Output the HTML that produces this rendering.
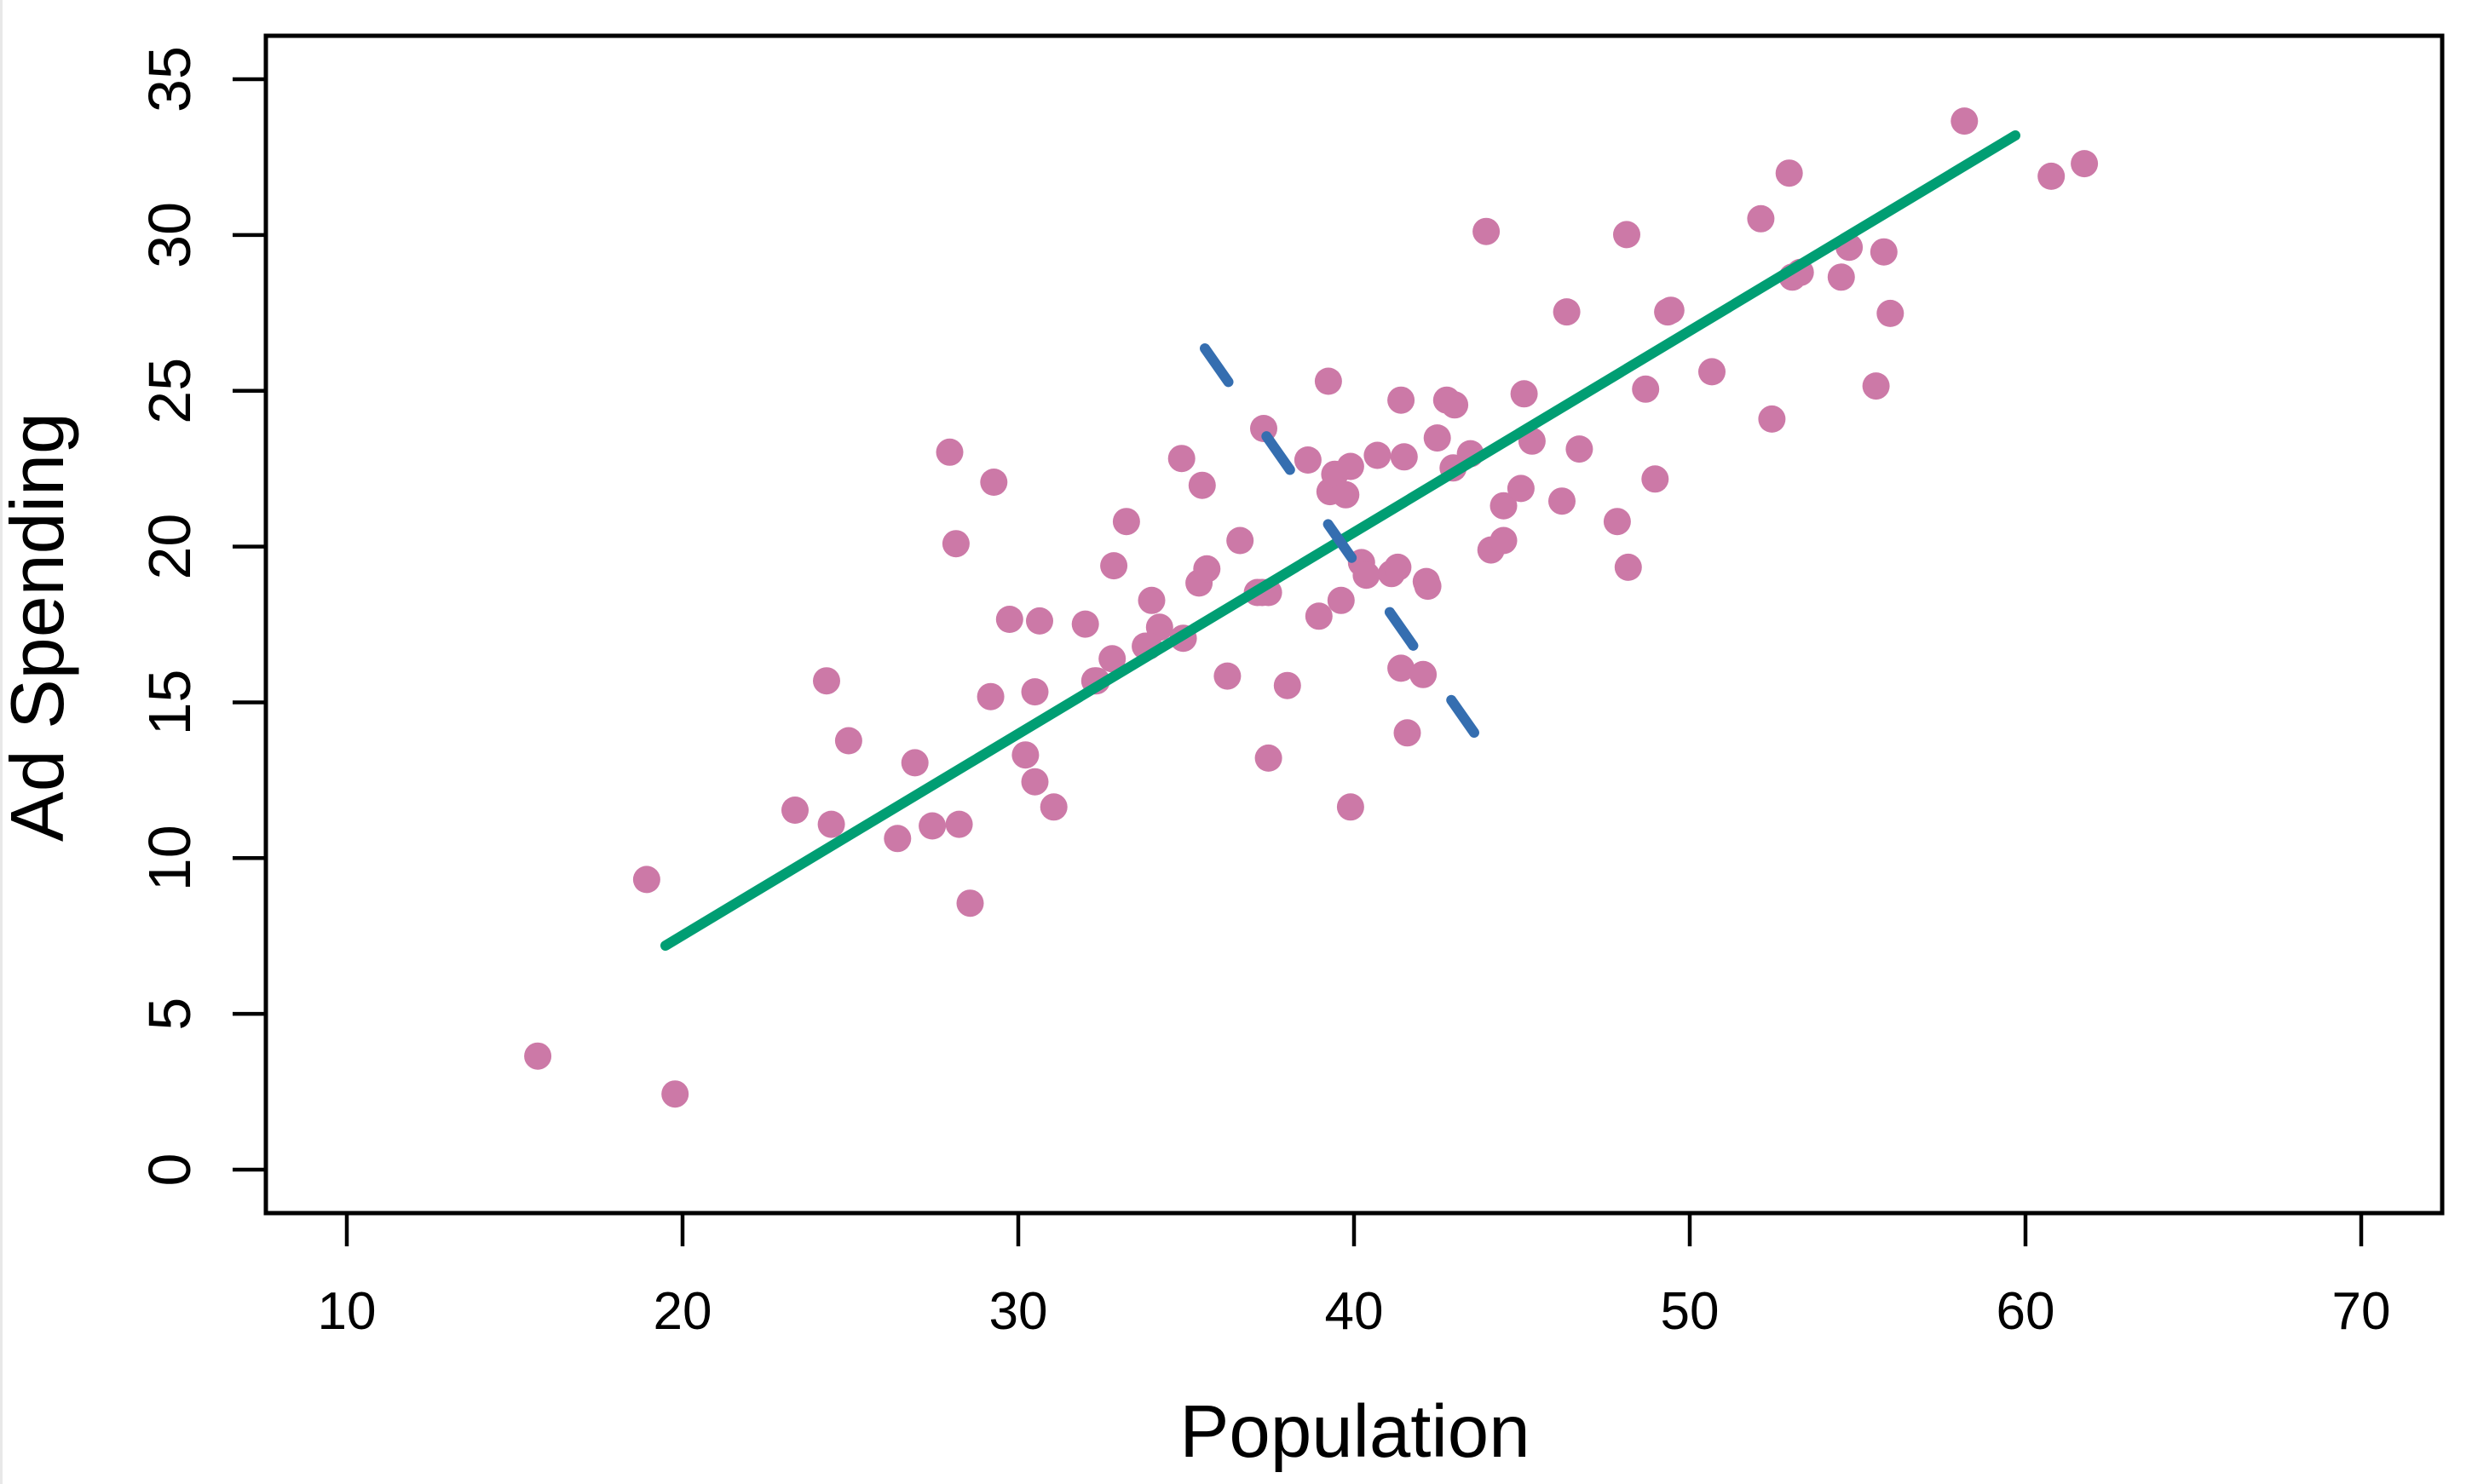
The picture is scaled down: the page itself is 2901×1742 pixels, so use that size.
<!DOCTYPE html>
<html><head><meta charset="utf-8"><style>html,body{margin:0;padding:0;background:#fff}svg{display:block}</style></head>
<body>
<svg id="s" xmlns="http://www.w3.org/2000/svg" width="2901" height="1742" viewBox="0 0 2901 1742">
<rect width="2901" height="1742" fill="#fff"/>
<rect x="0" y="0" width="3" height="1742" fill="#e8e8e8"/>
<g id="pts" fill="#CC79A7"></g>
<line x1="781" y1="1110" x2="2365" y2="159" stroke="#009E73" stroke-width="12" stroke-linecap="round"/>
<line x1="1414" y1="409" x2="1730" y2="860" stroke="#356EB0" stroke-width="12" stroke-linecap="round" stroke-dasharray="48 78"/>
<rect x="312" y="42" width="2554" height="1382" fill="none" stroke="#000" stroke-width="5"/>
<g stroke="#000" stroke-width="4.5" id="ticks"></g>
<g font-family="Liberation Sans, sans-serif" fill="#000" id="labels"></g>
<text x="1590" y="1710" font-family="Liberation Sans, sans-serif" font-size="87" text-anchor="middle">Population</text>
<text transform="translate(74,736) rotate(-90)" font-family="Liberation Sans, sans-serif" font-size="88" text-anchor="middle">Ad Spending</text>
</svg>
<script>
var NS="http://www.w3.org/2000/svg";
function el(p,t,a,txt){var e=document.createElementNS(NS,t);for(var k in a)e.setAttribute(k,a[k]);if(txt!==undefined)e.textContent=txt;p.appendChild(e);return e;}
var P=[[341,670],[428,694],[410,558],[504,514],[524,432],[527,523],[538,470],[569,532],[580,484],[591,524],[602,287],[606,345],[608,523],[615,573],[628,442],[630,306],[640,393],[650,479],[656,439],[656,496],[659,394],[668,512],[688,396],[694,432],[705,418],[706,359],[714,331],[726,410],[730,381],[735,398],[750,405],[749,291],[762,308],[760,370],[765,361],[778,429],[786,343],[797,376],[801,272],[804,376],[804,481],[816,435],[829,292],[836,391],[842,242],[843,312],[846,301],[850,381],[853,314],[856,296],[856,512],[863,357],[866,365],[873,289],[882,364],[886,360],[888,254],[888,424],[890,290],[892,465],[902,428],[904,369],[905,372],[911,278],[917,254],[922,257],[921,297],[932,288],[942,147],[945,349],[953,321],[953,343],[964,310],[966,250],[971,280],[990,318],[993,198],[1001,285],[1025,331],[1031,149],[1032,360],[1043,247],[1049,304],[1057,198],[1059,197],[1085,236],[1116,139],[1123,266],[1134,110],[1136,176],[1141,173],[1167,176],[1172,157],[1189,245],[1194,160],[1198,199],[1245,77],[1300,112],[1321,104],[695,432],[728,410],[800,376]];
var g=document.getElementById('pts');
P.forEach(function(p){el(g,'circle',{cx:(407+(p[0]-220)*1.852).toFixed(1),cy:(1373-(742-p[1])*1.851).toFixed(1),r:16});});
var t=document.getElementById('ticks'),L=document.getElementById('labels');
for(var v=10;v<=70;v+=10){var x=407+(v-10)*39.4;el(t,'line',{x1:x,y1:1424,x2:x,y2:1463});el(L,'text',{x:x,y:1560,'text-anchor':'middle','font-size':62},String(v));}
for(var v=0;v<=35;v+=5){var y=1373-36.57*v;el(t,'line',{x1:273,y1:y,x2:312,y2:y});el(L,'text',{transform:'translate(223,'+y+') rotate(-90)','text-anchor':'middle','font-size':70},String(v));}
</script>
</body></html>
